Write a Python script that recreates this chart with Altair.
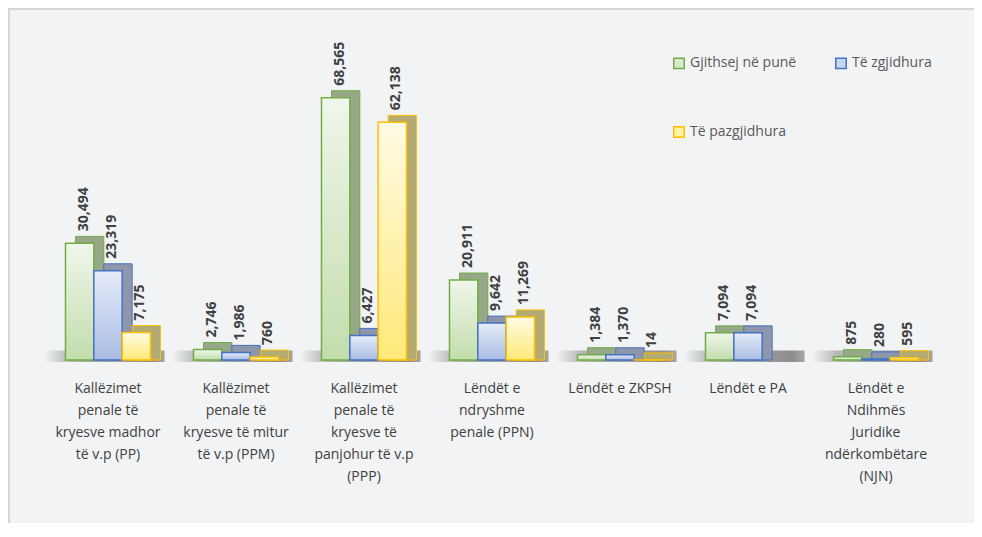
import altair as alt
import pandas as pd

# ---------------- data ----------------
categories = [
    "Kallëzimet\npenale të\nkryesve madhor\ntë v.p (PP)",
    "Kallëzimet\npenale të\nkryesve të mitur\ntë v.p (PPM)",
    "Kallëzimet\npenale të\nkryesve të\npanjohur të v.p\n(PPP)",
    "Lëndët e\nndryshme\npenale (PPN)",
    "Lëndët e ZKPSH",
    "Lëndët e PA",
    "Lëndët e\nNdihmës\nJuridike\nndërkombëtare\n(NJN)",
]
series = ["Gjithsej në punë", "Të zgjidhura", "Të pazgjidhura"]
gjithsej = [30494, 2746, 68565, 20911, 1384, 7094, 875]
zgjidhura = [23319, 1986, 6427, 9642, 1370, 7094, 280]
pazgjidhura = [7175, 760, 62138, 11269, 14, None, 595]

# ---------------- styles ----------------
strokes = ["#70ad47", "#4472c4", "#ffc000"]
back_colors = ["#97a889", "#8d96ab", "#b3aa74"]
legend_fills = ["#d8eacb", "#c9d6ef", "#fff1a6"]
grad_stops = [("#f0f6eb", "#c3ddac"), ("#e6ecf8", "#a9bce3"), ("#fffbe6", "#ffe978")]

rows = []
for si, vals in enumerate([gjithsej, zgjidhura, pazgjidhura]):
    for ci, v in enumerate(vals):
        if v is None:
            continue
        rows.append({"ci": ci, "si": si, "s": series[si], "v": v})
df = pd.DataFrame(rows)
cat_df = pd.DataFrame({"ci": list(range(len(categories))), "label": categories})

W = 0.2214  # bar width in category units
xs = alt.Scale(domain=[-0.5, 6.5], nice=False, zero=False)
ys = alt.Scale(domain=[0, 80000], nice=False)

base = alt.Chart(df).transform_calculate(
    x0=f"datum.ci - {1.5 * W} + datum.si * {W}",
    x1=f"datum.ci - {1.5 * W} + (datum.si + 1) * {W}",
    xc=f"datum.ci - {1.5 * W} + (datum.si + 0.5) * {W}",
    zero="0",
)

frame = alt.Chart(alt.Data(values=[{"a": 1}])).mark_rect(
    fill="transparent", stroke="#d6d6d6", strokeWidth=2
).encode(x=alt.value(-35), x2=alt.value(980), y=alt.value(-45), y2=alt.value(560))

shadow_grad = {
    "gradient": "linear", "x1": 0, "y1": 0, "x2": 1, "y2": 0,
    "stops": [
        {"offset": 0, "color": "#f2f3f5"},
        {"offset": 0.22, "color": "#b4b4b4"},
        {"offset": 0.9, "color": "#8e8e8e"},
        {"offset": 1, "color": "#a8a8a8"},
    ],
}
shadow = base.transform_filter("datum.si == 0").transform_calculate(
    sx0=f"datum.ci - {1.5 * W} - 0.17",
    sx1=f"datum.ci + {1.5 * W} + 0.11",
    sh="2500",
).mark_rect(fill=shadow_grad, y2Offset=2).encode(
    x=alt.X("sx0:Q", scale=xs, axis=None),
    x2="sx1:Q",
    y=alt.Y("sh:Q", scale=ys, axis=None),
    y2="zero:Q",
)

layers = [frame, shadow]
for si in range(3):
    sub = base.transform_filter(f"datum.si == {si}")
    enc = dict(
        x=alt.X("x0:Q", scale=xs, axis=None),
        x2="x1:Q",
        y=alt.Y("v:Q", scale=ys, axis=None),
        y2="zero:Q",
    )
    back = sub.mark_rect(
        fill=back_colors[si], stroke=strokes[si], strokeWidth=1,
        xOffset=10, x2Offset=10, yOffset=-7,
    ).encode(**enc)
    grad = {
        "gradient": "linear", "x1": 0, "y1": 0, "x2": 0, "y2": 1,
        "stops": [
            {"offset": 0, "color": grad_stops[si][0]},
            {"offset": 1, "color": grad_stops[si][1]},
        ],
    }
    front = sub.mark_rect(fill=grad, stroke=strokes[si], strokeWidth=1.5).encode(**enc)
    layers += [back, front]

labels = base.mark_text(
    angle=270, align="left", baseline="middle", dx=12, dy=4,
    font="Open Sans", fontSize=14, fontWeight="bold", color="#404040",
).encode(
    x=alt.X("xc:Q", scale=xs, axis=None),
    y=alt.Y("v:Q", scale=ys, axis=None),
    text=alt.Text("v:Q", format=","),
)

cat_labels = alt.Chart(cat_df).mark_text(
    align="center", baseline="top", lineBreak="\n", lineHeight=22, dy=22,
    font="Open Sans", fontSize=14, color="#404040",
).encode(
    x=alt.X("ci:Q", scale=xs, axis=None),
    y=alt.Y(datum=0, scale=ys, axis=None),
    text="label:N",
)

leg = alt.Legend(
    title=None, orient="none", legendX=628, legendY=2, columns=2,
    direction="horizontal", values=series,
    columnPadding=35, rowPadding=51, symbolType="square", symbolSize=110,
    symbolStrokeWidth=1.5, symbolOpacity=1, labelFont="Open Sans",
    labelFontSize=14, labelColor="#595959", labelOffset=4,
)
legend_layer = base.mark_square(opacity=0, size=100).encode(
    x=alt.X("xc:Q", scale=xs, axis=None),
    y=alt.Y("v:Q", scale=ys, axis=None),
    fill=alt.Fill("s:N", scale=alt.Scale(domain=series, range=legend_fills), legend=leg),
    stroke=alt.Stroke("s:N", scale=alt.Scale(domain=series, range=strokes), legend=leg),
)

layers += [labels, cat_labels, legend_layer]

chart = alt.layer(*layers).properties(
    width=896, height=306,
    autosize=alt.AutoSizeParams(type="none"),
    padding={"left": 36, "top": 46, "right": 34, "bottom": 163},
    background="#f2f3f5",
).configure_view(stroke=None)

chart.save("out.html", embed_options={"renderer": "svg", "actions": False})
